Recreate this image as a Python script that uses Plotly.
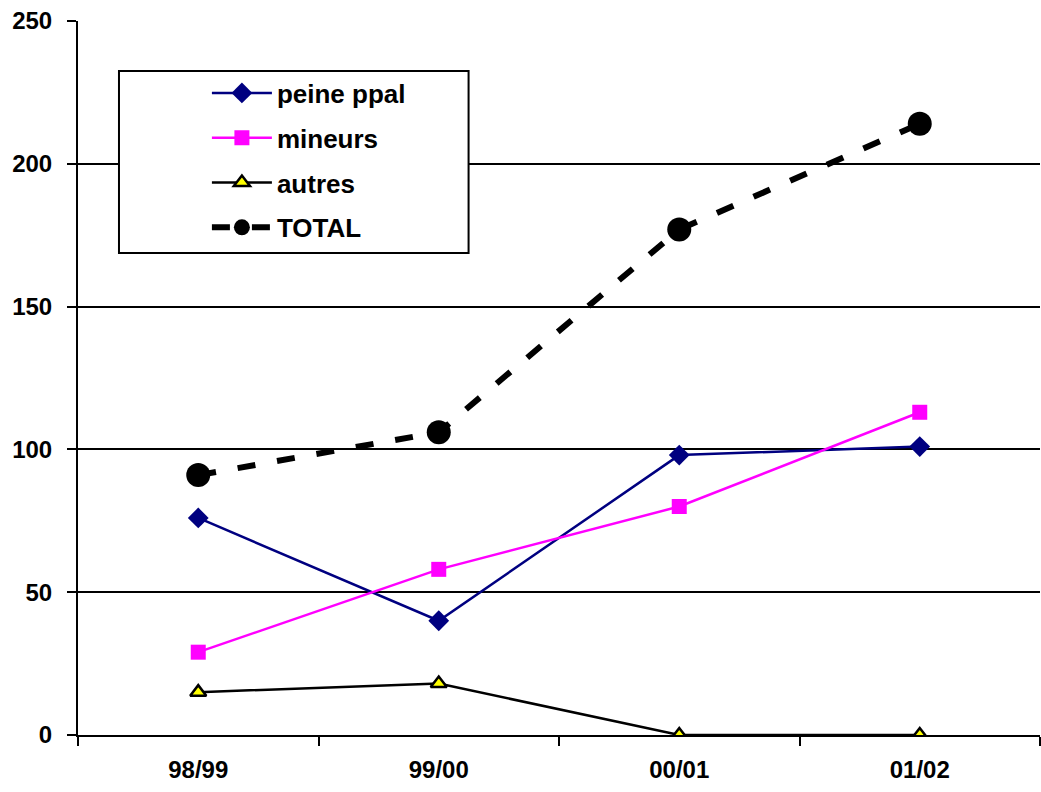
import plotly.graph_objects as go

seasons = ["98/99", "99/00", "00/01", "01/02"]
peine_ppal = [76, 40, 98, 101]
mineurs = [29, 58, 80, 113]
autres = [15, 18, 0, 0]
total = [91, 106, 177, 214]

font_family = "Liberation Sans, Arial, sans-serif"
bold = dict(family=font_family, size=24, color="black", weight="bold")
legend_font = dict(family=font_family, size=26, color="black", weight="bold")

fig = go.Figure()

fig.add_trace(go.Scatter(
    x=seasons, y=peine_ppal, name="peine ppal", mode="lines+markers",
    legendgroup="a",
    line=dict(color="#000080", width=2.5),
    marker=dict(symbol="diamond", size=16, color="#000080"),
))
fig.add_trace(go.Scatter(
    x=seasons, y=mineurs, name="mineurs", mode="lines+markers",
    legendgroup="b",
    line=dict(color="#FF00FF", width=2.5),
    marker=dict(symbol="square", size=15, color="#FF00FF"),
))
fig.add_trace(go.Scatter(
    x=seasons, y=autres, name="autres", mode="lines+markers",
    legendgroup="c",
    line=dict(color="#000000", width=2.5),
    marker=dict(symbol="triangle-up", size=14, color="#FFFF00",
                line=dict(color="#000000", width=2.5)),
))
fig.add_trace(go.Scatter(
    x=seasons, y=total, name="TOTAL", mode="lines+markers",
    legendgroup="d",
    line=dict(color="#000000", width=6, dash="18px,22px"),
    marker=dict(symbol="circle", size=24, color="#000000"),
))

# legend frame
fig.add_shape(
    type="rect", xref="paper", yref="paper",
    x0=0.0426, x1=0.406, y0=0.675, y1=0.930,
    line=dict(color="black", width=2), fillcolor="white", layer="above",
)

fig.update_layout(
    width=1041, height=792,
    margin=dict(l=78, r=1, t=21, b=57),
    paper_bgcolor="white", plot_bgcolor="white",
    font=bold,
    showlegend=True,
    legend=dict(
        x=0.134, y=0.932, xanchor="left", yanchor="top",
        bgcolor="rgba(0,0,0,0)", borderwidth=0,
        font=legend_font, itemwidth=60, tracegroupgap=8,
    ),
    xaxis=dict(
        type="category", range=[-0.5, 3.5],
        showline=True, linecolor="black", linewidth=2,
        ticks="outside", ticklen=9, tickwidth=2, tickcolor="black",
        tickson="boundaries", showgrid=False,
        tickfont=bold, ticklabelstandoff=12,
    ),
    yaxis=dict(
        range=[0, 250], dtick=50,
        showline=True, linecolor="black", linewidth=2,
        ticks="outside", ticklen=9, tickwidth=2, tickcolor="black",
        showgrid=True, gridcolor="black", gridwidth=2,
        zeroline=True, zerolinecolor="black", zerolinewidth=3,
        tickfont=bold, ticklabelstandoff=10,
    ),
)

fig.write_html("out.html")
